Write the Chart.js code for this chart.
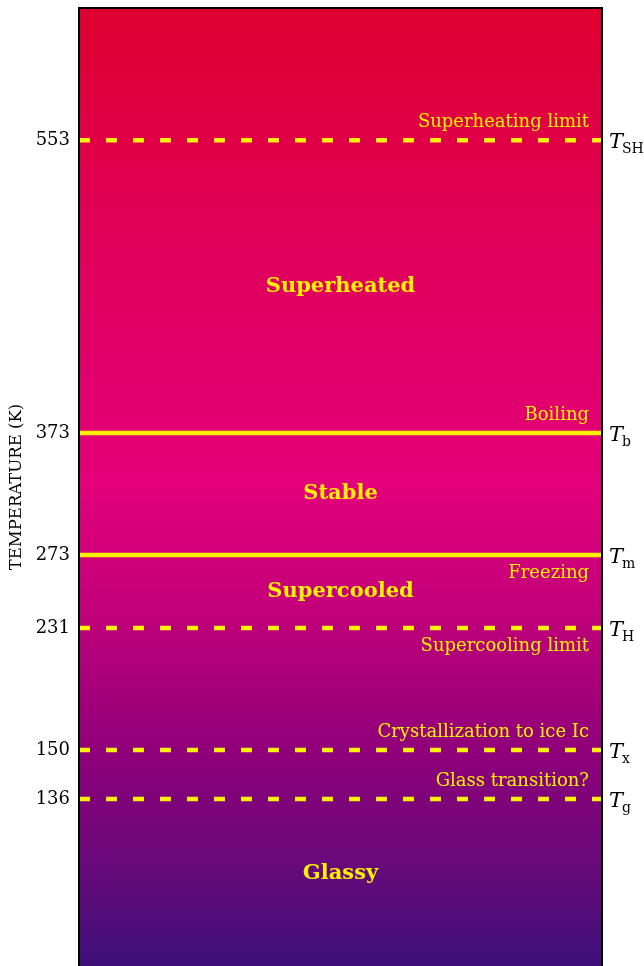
<!DOCTYPE html>
<html>
<head>
<meta charset="utf-8">
<script src="https://cdn.jsdelivr.net/npm/chart.js@4.4.1/dist/chart.umd.min.js"></script>
<style>
  html, body { margin: 0; padding: 0; background: #fff; }
  canvas { display: block; }
</style>
</head>
<body>
<canvas id="phaseChart" width="644" height="966"></canvas>
<script>
// temperatures (K) of the marked lines, top to bottom
const lineTemps = [553, 373, 273, 231, 150, 136];
const lineNames = [
  "Superheating limit",
  "Boiling",
  "Freezing",
  "Supercooling limit",
  "Crystallization to ice Ic",
  "Glass transition?",
];
const lineSymbols = ["SH", "b", "m", "H", "x", "g"];
const lineKinds = ["dashed", "solid", "solid", "dashed", "dashed", "dashed"];

// region names, placed at a temperature inside each region
const regionNames = ["Superheated", "Stable", "Supercooled", "Glassy"];
const regionTemps = [463, 323, 252, 75];

const tickTemps = [553, 373, 273, 231, 150, 136];

// the axis is schematic, not linear: where each tick sits (fraction from bottom)
const axisMin = 0;
const axisMax = 650;
const tickPositions = [0.862, 0.5564, 0.429, 0.3528, 0.2255, 0.1743];
const labelSide = ["above", "above", "below", "below", "above", "above"];

const anchors = [[axisMin, 0]]
  .concat(tickTemps.map((t, i) => [t, tickPositions[i]]))
  .concat([[axisMax, 1]])
  .sort((a, b) => a[0] - b[0]);

function toDecimal(v) {
  for (let i = 1; i < anchors.length; i++) {
    const [v0, d0] = anchors[i - 1];
    const [v1, d1] = anchors[i];
    if (v <= v1 || i === anchors.length - 1) {
      return d0 + ((v - v0) / (v1 - v0)) * (d1 - d0);
    }
  }
  return 0;
}

function fromDecimal(d) {
  for (let i = 1; i < anchors.length; i++) {
    const [v0, d0] = anchors[i - 1];
    const [v1, d1] = anchors[i];
    if (d <= d1 || i === anchors.length - 1) {
      return v0 + ((d - d0) / (d1 - d0)) * (v1 - v0);
    }
  }
  return axisMin;
}

class SchematicScale extends Chart.LinearScale {
  getPixelForValue(value) {
    return this.getPixelForDecimal(toDecimal(value));
  }
  getValueForPixel(pixel) {
    return fromDecimal(this.getDecimalForPixel(pixel));
  }
}
SchematicScale.id = "schematic";
SchematicScale.defaults = Chart.LinearScale.defaults;
Chart.register(SchematicScale);

const SERIF = "'DejaVu Serif', 'Liberation Serif', serif";
const YELLOW = "#fff200";

const backgroundPlugin = {
  id: "background",
  beforeDatasetsDraw(chart) {
    const { ctx, chartArea: a } = chart;
    const g = ctx.createLinearGradient(0, a.top, 0, a.bottom);
    g.addColorStop(0, "#df0030");
    g.addColorStop(0.25, "#e0005a");
    g.addColorStop(0.5, "#e2007a");
    g.addColorStop(0.62, "#c4007a");
    g.addColorStop(0.78, "#8e007a");
    g.addColorStop(0.9, "#660a7a");
    g.addColorStop(1, "#3c1078");
    ctx.save();
    ctx.fillStyle = g;
    ctx.fillRect(a.left, a.top, a.right - a.left, a.bottom - a.top);
    ctx.restore();
  },
  afterDraw(chart) {
    const { ctx, chartArea: a } = chart;
    ctx.save();
    ctx.strokeStyle = "#000";
    ctx.lineWidth = 2;
    ctx.beginPath();
    ctx.moveTo(a.left, a.bottom + 2);
    ctx.lineTo(a.left, a.top);
    ctx.lineTo(a.right, a.top);
    ctx.lineTo(a.right, a.bottom + 2);
    ctx.stroke();
    ctx.restore();
  },
};

const labelPlugin = {
  id: "labels",
  afterDatasetsDraw(chart) {
    const { ctx, chartArea: a } = chart;
    const y = chart.scales.y;
    ctx.save();

    ctx.fillStyle = YELLOW;
    ctx.textAlign = "center";
    ctx.textBaseline = "middle";
    ctx.font = "bold 21px " + SERIF;
    regionNames.forEach((name, i) => {
      ctx.fillText(name, (a.left + a.right) / 2, y.getPixelForValue(regionTemps[i]));
    });

    ctx.font = "18px " + SERIF;
    ctx.textAlign = "right";
    lineNames.forEach((name, i) => {
      const py = y.getPixelForValue(lineTemps[i]);
      const off = labelSide[i] === "above" ? -18 : 18;
      ctx.fillText(name, a.right - 13, py + off);
    });

    ctx.fillStyle = "#000";
    ctx.textAlign = "left";
    lineSymbols.forEach((sub, i) => {
      const py = y.getPixelForValue(lineTemps[i]);
      const x0 = a.right + 7;
      ctx.font = "italic 21px " + SERIF;
      ctx.textBaseline = "alphabetic";
      ctx.fillText("T", x0, py + 8);
      const w = ctx.measureText("T").width;
      ctx.font = "14px " + SERIF;
      ctx.fillText(sub, x0 + w - 1, py + 13);
    });

    ctx.restore();
  },
};

const datasets = lineTemps.map((t, i) => ({
  label: lineNames[i],
  data: [
    { x: 0, y: t },
    { x: 1, y: t },
  ],
  showLine: true,
  borderColor: YELLOW,
  borderWidth: 4.5,
  borderDash: lineKinds[i] === "dashed" ? [11, 16] : [],
  borderCapStyle: "butt",
  pointRadius: 0,
}));

new Chart(document.getElementById("phaseChart"), {
  type: "scatter",
  data: { datasets },
  options: {
    responsive: false,
    animation: false,
    layout: { padding: { left: 0, top: 8, right: 42, bottom: 0 } },
    plugins: {
      legend: { display: false },
      tooltip: { enabled: false },
    },
    scales: {
      x: { type: "linear", min: 0, max: 1, display: false },
      y: {
        type: "schematic",
        min: axisMin,
        max: axisMax,
        afterBuildTicks(scale) {
          scale.ticks = tickTemps.map((v) => ({ value: v }));
        },
        afterFit(scale) {
          scale.width = 79;
          scale.paddingTop = 0;
          scale.paddingBottom = 0;
        },
        grid: { display: false, drawTicks: false },
        border: { display: false },
        ticks: {
          autoSkip: false,
          padding: 9,
          color: "#000",
          font: { family: SERIF, size: 18 },
          callback: (v) => String(v),
        },
        title: {
          display: true,
          text: "TEMPERATURE (K)",
          color: "#000",
          font: { family: SERIF, size: 16.5 },
          padding: { top: 7, bottom: 0 },
        },
      },
    },
  },
  plugins: [backgroundPlugin, labelPlugin],
});
</script>
</body>
</html>
